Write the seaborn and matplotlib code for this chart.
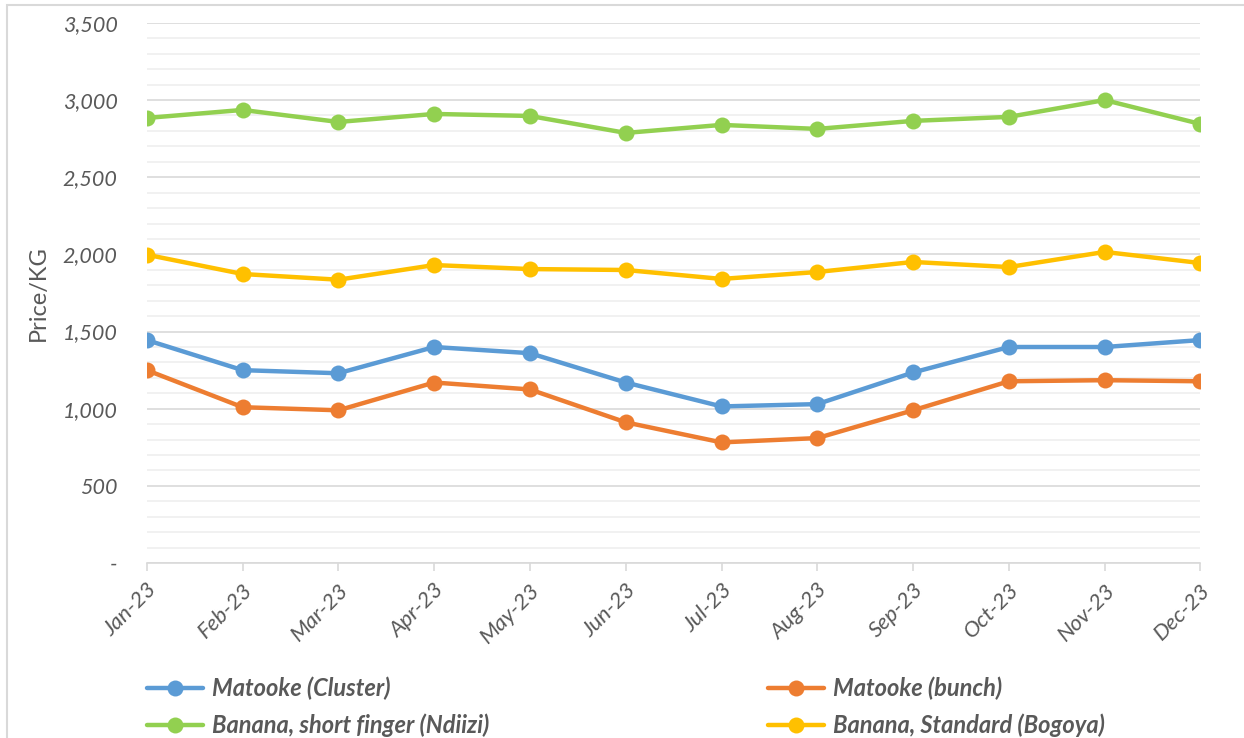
import matplotlib
matplotlib.use("Agg")
import matplotlib.pyplot as plt
import matplotlib.ticker as mticker
from matplotlib.lines import Line2D
from matplotlib.patches import Rectangle
import numpy as np
import pandas as pd
import seaborn as sns

months = ["Jan-23", "Feb-23", "Mar-23", "Apr-23", "May-23", "Jun-23",
          "Jul-23", "Aug-23", "Sep-23", "Oct-23", "Nov-23", "Dec-23"]

matooke_cluster = [1445, 1250, 1230, 1400, 1360, 1170, 1015, 1030, 1235, 1400, 1400, 1445]
matooke_bunch = [1250, 1010, 990, 1170, 1125, 912, 782, 810, 990, 1178, 1185, 1178]
banana_ndiizi = [2884, 2936, 2858, 2910, 2897, 2787, 2839, 2813, 2865, 2891, 3000, 2845]
banana_bogoya = [1998, 1873, 1836, 1931, 1905, 1899, 1841, 1886, 1951, 1918, 2016, 1944]

series_names = ["Matooke (Cluster)", "Matooke (bunch)",
                "Banana, short finger (Ndiizi)", "Banana, Standard (Bogoya)"]
series_values = [matooke_cluster, matooke_bunch, banana_ndiizi, banana_bogoya]
palette = ["#5B9BD5", "#ED7D31", "#92D050", "#FFC000"]

rows = []
for name, vals in zip(series_names, series_values):
    for i, (m, v) in enumerate(zip(months, vals)):
        rows.append({"idx": i, "month": m, "series": name, "price": v})
df = pd.DataFrame(rows)

sns.set_theme(style="white")
plt.rcParams["font.family"] = ["Lato", "DejaVu Sans"]

fig = plt.figure(figsize=(12.44, 7.38), dpi=100)
ax = fig.add_axes([0.118, 0.237, 0.847, 0.732])

sns.lineplot(data=df, x="idx", y="price", hue="series", hue_order=series_names,
             palette=palette, marker="o", markersize=11.5, markeredgewidth=0,
             linewidth=3.2, ax=ax, legend=False, zorder=3)

ax.set_xlim(0, 11)
ax.set_ylim(0, 3500)
ax.yaxis.set_major_locator(mticker.MultipleLocator(500))
ax.yaxis.set_minor_locator(mticker.MultipleLocator(100))
ax.yaxis.set_major_formatter(mticker.FuncFormatter(
    lambda v, p: "-" if v == 0 else f"{int(v):,}"))
ax.grid(which="major", axis="y", color="#d9d9d9", linewidth=1.2, zorder=0)
ax.grid(which="minor", axis="y", color="#efefef", linewidth=1.2, zorder=0)
ax.set_axisbelow(True)

ax.set_xticks(range(len(months)))
ax.set_xticklabels(months, rotation=45, ha="right", rotation_mode="anchor",
                   fontstyle="italic", fontsize=16, color="#595959")
for lbl in ax.get_yticklabels():
    lbl.set_fontstyle("italic")
ax.tick_params(axis="y", which="both", length=0, labelsize=15.5,
               labelcolor="#595959", pad=21)
ax.tick_params(axis="x", which="major", length=6, width=1.2, color="#d9d9d9",
               direction="out", pad=6, bottom=True)

for s in ["top", "right", "left"]:
    ax.spines[s].set_visible(False)
ax.spines["bottom"].set_color("#d9d9d9")
ax.spines["bottom"].set_linewidth(1.2)

ax.set_xlabel("")
ax.set_ylabel("Price/KG", fontsize=17, color="#595959", labelpad=10)

# Legend: two columns placed below the plot
handles = [Line2D([0], [0], color=c, linewidth=3.2, marker="o", markersize=11.5,
                  markeredgewidth=0) for c in palette]
leg_kw = dict(frameon=False, handlelength=2.37, handletextpad=0.38,
              labelspacing=0.55, borderaxespad=0, borderpad=0,
              prop={"style": "italic", "weight": "bold", "size": 17},
              labelcolor="#595959")
leg1 = fig.legend([handles[0], handles[2]], [series_names[0], series_names[2]],
                  loc="upper left", bbox_to_anchor=(147 / 1244, 1 - 677 / 738), **leg_kw)
leg2 = fig.legend([handles[1], handles[3]], [series_names[1], series_names[3]],
                  loc="upper left", bbox_to_anchor=(768 / 1244, 1 - 677 / 738), **leg_kw)

# Chart frame
fig.patches.append(Rectangle((7 / 1244, -0.05), 1.1, 1 - 5 / 738 + 0.05,
                             transform=fig.transFigure, fill=False,
                             edgecolor="#d9d9d9", linewidth=1.5))

fig.savefig("out.png", dpi=100)
